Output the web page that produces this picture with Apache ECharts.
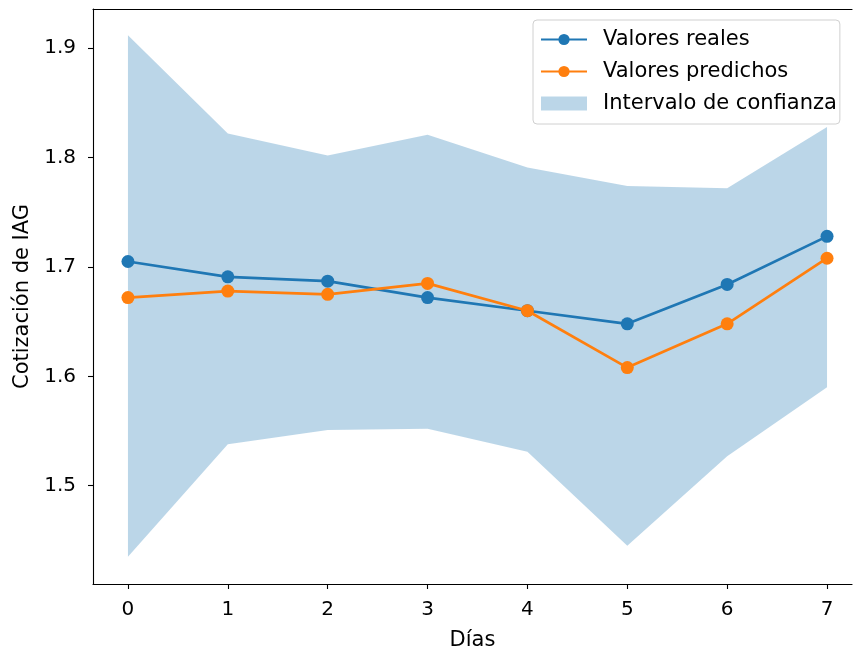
<!DOCTYPE html>
<html>
<head>
<meta charset="utf-8">
<script src="https://cdn.jsdelivr.net/npm/echarts@6/dist/echarts.min.js"></script>
<style>html,body{margin:0;padding:0;background:#fff}#c{width:853px;height:653px}</style>
</head>
<body>
<div id="c"></div>
<script>
const dias = [0, 1, 2, 3, 4, 5, 6, 7];
const valoresReales = [1.705, 1.691, 1.687, 1.672, 1.660, 1.648, 1.684, 1.728];
const valoresPredichos = [1.672, 1.678, 1.675, 1.685, 1.660, 1.608, 1.648, 1.708];
const intervaloSuperior = [1.912, 1.822, 1.802, 1.821, 1.791, 1.774, 1.772, 1.828];
const intervaloInferior = [1.435, 1.538, 1.551, 1.552, 1.531, 1.445, 1.527, 1.590];
const xTicks = [0, 1, 2, 3, 4, 5, 6, 7];
const yTicks = [1.5, 1.6, 1.7, 1.8, 1.9];

const FONT = 'DejaVu Sans';
const FS = 21, FT = 20;
const blue = '#1f77b4', orange = '#ff7f0e', band = 'rgba(31,119,180,0.3)';
const XMIN = -0.35, XMAX = 7.25, YMIN = 1.4101, YMAX = 1.9359;

const chart = echarts.init(document.getElementById('c'), null, {renderer: 'canvas'});
chart.setOption({
  animation: false,
  backgroundColor: '#fff',
  textStyle: {fontFamily: FONT},
  grid: {left: 93, top: 9, width: 759, height: 575, show: false, containLabel: false, outerBoundsMode: 'none'},
  legend: {
    orient: 'vertical', left: 533, top: 20, z: 10,
    itemWidth: 46, itemHeight: 14, itemGap: 11,
    padding: [9, 3, 10, 7],
    backgroundColor: 'rgba(255,255,255,0.8)', borderColor: '#d0d0d0', borderWidth: 1, borderRadius: 4,
    textStyle: {fontFamily: FONT, fontSize: FS, color: '#000', lineHeight: 21, padding: [0, 0, 0, 11]},
    data: [
      {name: 'Valores reales'},
      {name: 'Valores predichos'},
      {name: 'Intervalo de confianza', icon: 'rect', itemStyle: {color: band}}
    ]
  },
  xAxis: [{
    type: 'value', min: XMIN, max: XMAX, position: 'bottom',
    name: 'Días', nameLocation: 'middle', nameGap: 46,
    nameTextStyle: {fontFamily: FONT, fontSize: FS, color: '#000'},
    axisLine: {show: true, onZero: false, lineStyle: {color: '#000', width: 1.1}},
    axisTick: {show: true, length: 5, inside: false, lineStyle: {color: '#000', width: 1.1}, customValues: xTicks},
    axisLabel: {show: true, margin: 16, fontFamily: FONT, fontSize: FT, color: '#000', customValues: xTicks, formatter: v => String(v)},
    splitLine: {show: false}
  }, {
    type: 'value', min: XMIN, max: XMAX, position: 'top',
    axisLine: {show: true, onZero: false, lineStyle: {color: '#000', width: 1.1}},
    axisTick: {show: false}, axisLabel: {show: false}, splitLine: {show: false}
  }],
  yAxis: {
    type: 'value', min: YMIN, max: YMAX,
    name: 'Cotización de IAG', nameLocation: 'middle', nameGap: 59,
    nameTextStyle: {fontFamily: FONT, fontSize: FS, color: '#000'},
    axisLine: {show: true, onZero: false, lineStyle: {color: '#000', width: 1.1}},
    axisTick: {show: true, length: 5, inside: false, lineStyle: {color: '#000', width: 1.1}, customValues: yTicks},
    axisLabel: {show: true, margin: 17, fontFamily: FONT, fontSize: FT, color: '#000', customValues: yTicks, formatter: v => v.toFixed(1)},
    splitLine: {show: false}
  },
  series: [
    {
      name: 'Intervalo de confianza', type: 'custom', z: 1, silent: true,
      itemStyle: {color: band},
      data: [[0, intervaloInferior[0]]],
      renderItem: function (params, api) {
        const pts = [];
        for (let i = 0; i < dias.length; i++) pts.push(api.coord([dias[i], intervaloSuperior[i]]));
        for (let i = dias.length - 1; i >= 0; i--) pts.push(api.coord([dias[i], intervaloInferior[i]]));
        return {type: 'polygon', shape: {points: pts}, style: {fill: band, stroke: null}};
      }
    },
    {
      name: 'Valores reales', type: 'line', symbol: 'circle', symbolSize: 13,
      data: dias.map((d, i) => [d, valoresReales[i]]),
      itemStyle: {color: blue}, lineStyle: {color: blue, width: 2.7}, z: 3
    },
    {
      name: 'Valores predichos', type: 'line', symbol: 'circle', symbolSize: 13,
      data: dias.map((d, i) => [d, valoresPredichos[i]]),
      itemStyle: {color: orange}, lineStyle: {color: orange, width: 2.7}, z: 4
    }
  ]
});
</script>
</body>
</html>
